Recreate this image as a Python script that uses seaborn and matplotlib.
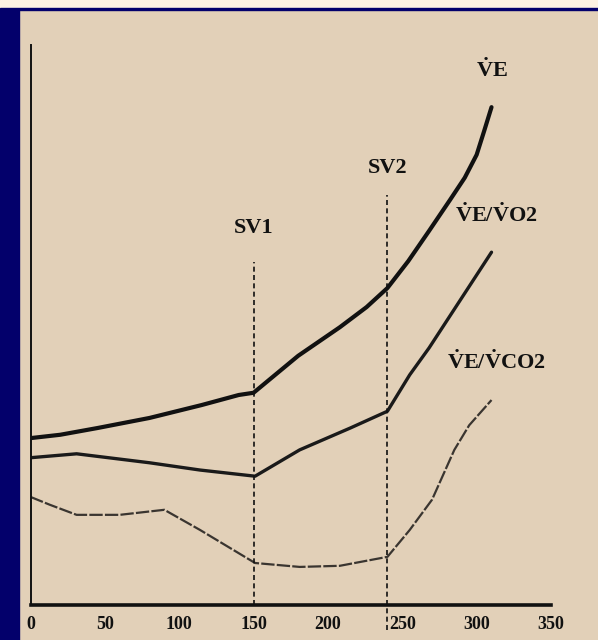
import matplotlib
matplotlib.use("Agg")
import matplotlib.pyplot as plt
import seaborn as sns
import pandas as pd
from matplotlib.patches import Rectangle

# ---- data (arbitrary y units) ----
ve_x = [0, 20, 45, 80, 115, 140, 150, 180, 208, 226, 240, 254, 268, 282, 292, 300, 305, 310]
ve_y = [29.8, 30.4, 31.6, 33.4, 35.7, 37.5, 37.9, 44.5, 49.6, 53.2, 56.6, 61.4, 66.8, 72.3, 76.3, 80.4, 84.6, 88.9]

vo2_x = [0, 31, 80, 114, 151, 181, 215, 240, 255, 268, 310]
vo2_y = [26.3, 27.0, 25.4, 24.1, 23.0, 27.7, 31.6, 34.6, 41.1, 45.9, 63.0]

vco2_x = [0, 13, 31, 60, 90, 114, 151, 181, 208, 240, 255, 270, 285, 295, 310]
vco2_y = [19.3, 17.9, 16.1, 16.1, 17.0, 13.4, 7.5, 6.8, 7.0, 8.6, 13.4, 18.8, 27.7, 32.1, 36.6]

xticks = [0, 50, 100, 150, 200, 250, 300, 350]
sv_x = [150, 240]
sv_labels = ["SV1", "SV2"]
series_labels = [r"$\dot{\mathrm{V}}$E", r"$\dot{\mathrm{V}}$E/$\dot{\mathrm{V}}$O2",
                 r"$\dot{\mathrm{V}}$E/$\dot{\mathrm{V}}$CO2"]

BG = "#E2D0B8"
NAVY = "#03006B"
INK = "#111111"

sns.set_style("white")
plt.rcParams["font.family"] = ["Liberation Serif", "DejaVu Serif"]
plt.rcParams["mathtext.fontset"] = "custom"
plt.rcParams["mathtext.rm"] = "Liberation Serif:bold"
plt.rcParams["mathtext.it"] = "Liberation Serif:italic:bold"
plt.rcParams["mathtext.bf"] = "Liberation Serif:bold"

W, H = 598, 640
fig = plt.figure(figsize=(W / 100, H / 100), dpi=100)
fig.patch.set_facecolor(BG)
# decorative frame
fig.add_artist(Rectangle((0, 1 - 8 / H), 1, 8 / H, transform=fig.transFigure, color="#FDF3E3", zorder=0))
fig.add_artist(Rectangle((0, 1 - 10 / H), 1, 2 / H, transform=fig.transFigure, color=NAVY, zorder=0))
fig.add_artist(Rectangle((0, 0), 19 / W, 1 - 10 / H, transform=fig.transFigure, color=NAVY, zorder=0))

x0, x1 = 30.5, 551
y0, y1 = 605, 45
ax = fig.add_axes([x0 / W, (H - y0) / H, (x1 - x0) / W, (y0 - y1) / H])
ax.set_facecolor("none")

df_ve = pd.DataFrame({"x": ve_x, "y": ve_y})
df_vo2 = pd.DataFrame({"x": vo2_x, "y": vo2_y})
df_vco2 = pd.DataFrame({"x": vco2_x, "y": vco2_y})

sns.lineplot(data=df_ve, x="x", y="y", ax=ax, sort=False, estimator=None, color=INK, lw=3.0)
sns.lineplot(data=df_vo2, x="x", y="y", ax=ax, sort=False, estimator=None, color="#1a1a1a", lw=2.4)
sns.lineplot(data=df_vco2, x="x", y="y", ax=ax, sort=False, estimator=None, color="#3a3530", lw=1.6,
             linestyle=(0, (6, 1)))

# threshold lines
ax.plot([sv_x[0], sv_x[0]], [0, 61.3], color=INK, lw=1.2, ls=(0, (3, 2)), clip_on=False)
ax.plot([sv_x[1], sv_x[1]], [-4.5, 73.2], color=INK, lw=1.2, ls=(0, (3, 2)), clip_on=False)
lab_kw = dict(ha="center", va="center", fontsize=16, color=INK, fontweight="bold", clip_on=False)
ax.text(sv_x[0], 67.4, sv_labels[0], **lab_kw)
ax.text(sv_x[1], 78.0, sv_labels[1], **lab_kw)

ax.text(310, 95.5, series_labels[0], **lab_kw)
ax.text(313, 69.6, series_labels[1], **lab_kw)
ax.text(313.5, 43.4, series_labels[2], **lab_kw)

ax.set_xlim(0, 350)
ax.set_ylim(0, 100)
ax.set_xticks(xticks)
ax.set_xticklabels([str(t) for t in xticks], fontsize=13, fontweight="bold")
ax.set_yticks([])
ax.set_xlabel("")
ax.set_ylabel("")
for s in ["top", "right"]:
    ax.spines[s].set_visible(False)
ax.spines["bottom"].set_linewidth(2.6)
ax.spines["bottom"].set_color(INK)
ax.spines["left"].set_linewidth(1.4)
ax.spines["left"].set_color(INK)
ax.tick_params(axis="x", direction="inout", length=12, width=1.5, color=INK, pad=2, labelcolor=INK)

fig.savefig("out.png", dpi=100, facecolor=fig.get_facecolor())
